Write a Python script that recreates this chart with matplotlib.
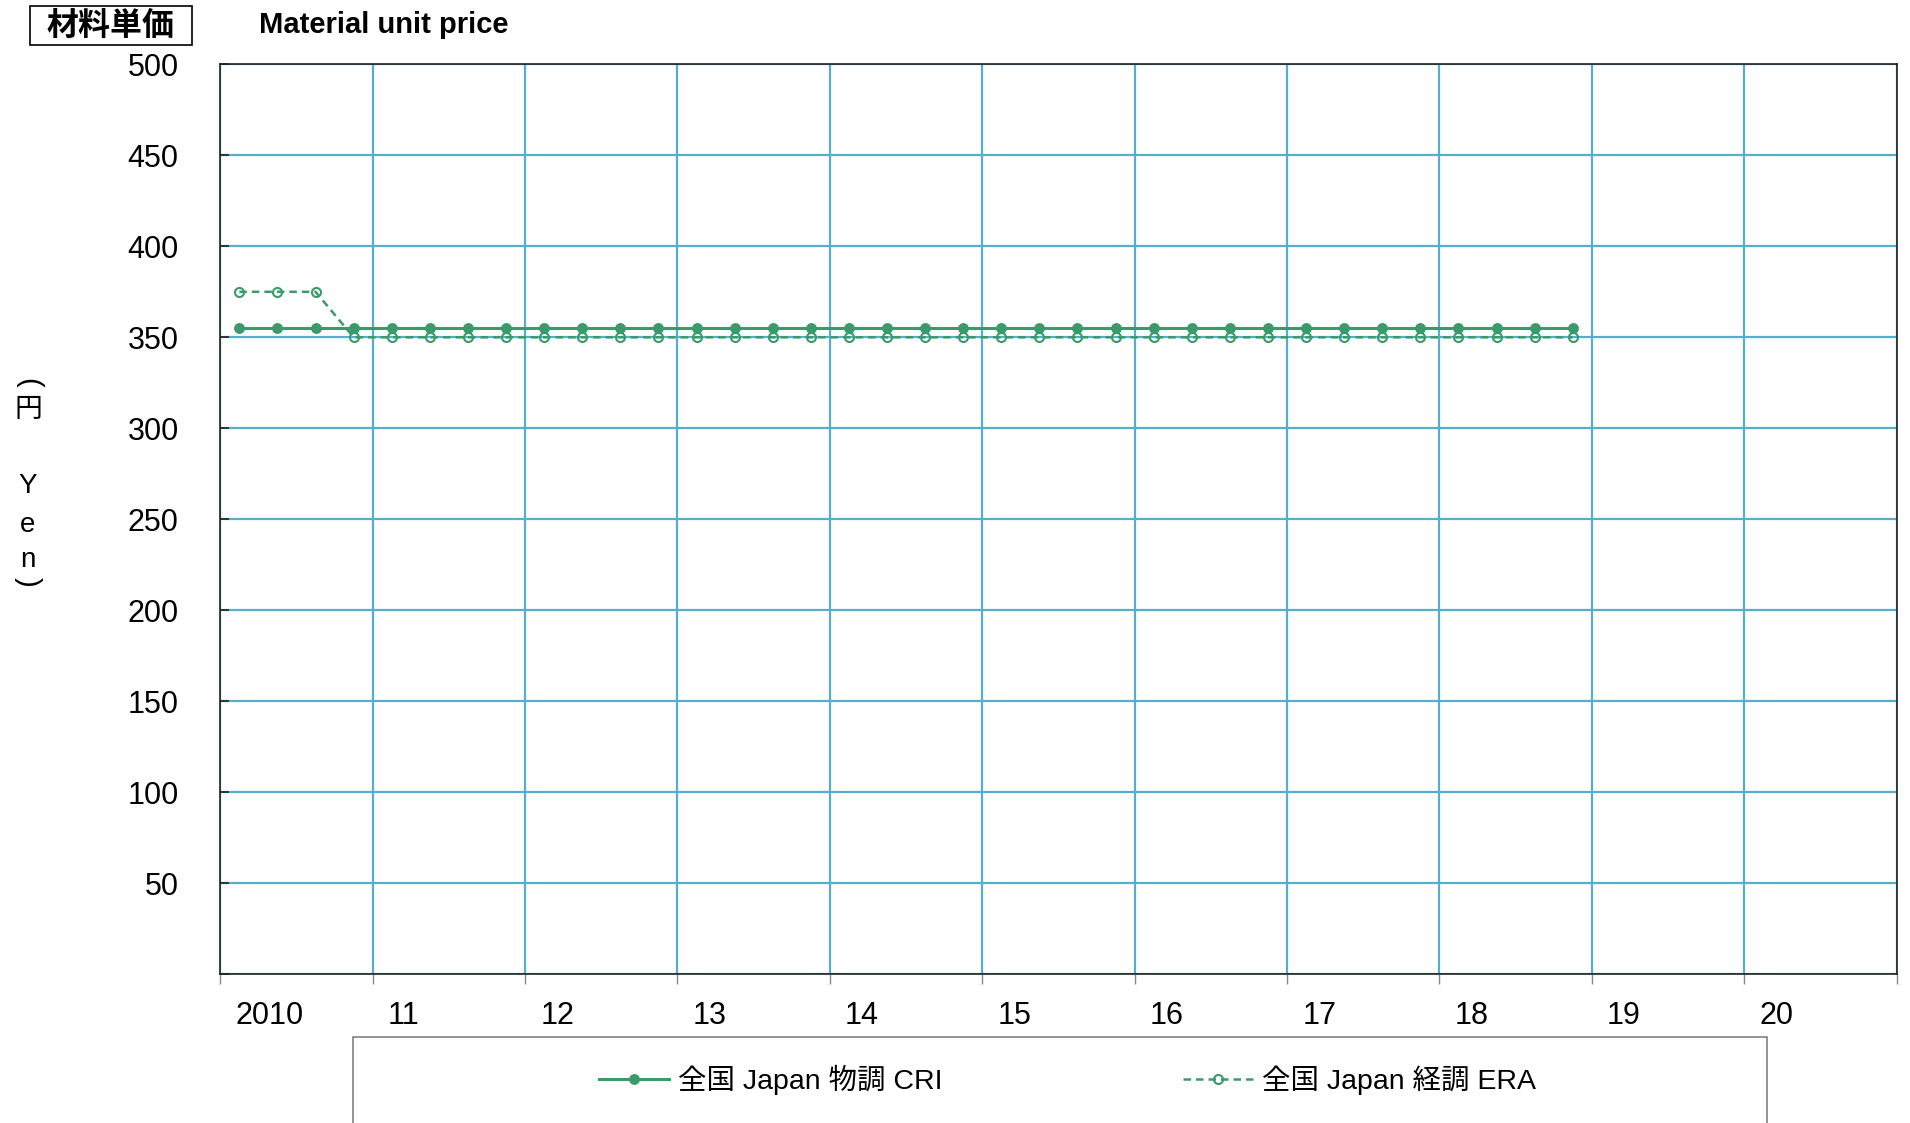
import glob
import matplotlib
matplotlib.use('Agg')
import matplotlib.pyplot as plt
from matplotlib import font_manager
from matplotlib.font_manager import FontProperties
from matplotlib.patches import Rectangle

# ---------- fonts ----------
narrow_path = None
paths = [f.fname for f in font_manager.fontManager.ttflist]
paths += glob.glob('/usr/share/fonts/**/*.ttf', recursive=True)
for p in paths:
    if 'liberationsansnarrow-regular' in p.lower().replace('_', '').replace(' ', ''):
        narrow_path = p
        break
if narrow_path:
    TICKFP = FontProperties(fname=narrow_path, size=24)
else:
    TICKFP = FontProperties(family='Liberation Sans', size=22)
CJK = ['Noto Sans CJK JP', 'DejaVu Sans']
LAT = ['Liberation Sans', 'Noto Sans CJK JP', 'DejaVu Sans']

# ---------------- data ----------------
years_data = [2010, 2011, 2012, 2013, 2014, 2015, 2016, 2017, 2018]
quarters = [1, 2, 3, 4]
periods = [(y, q) for y in years_data for q in quarters]   # quarterly, 2010Q1 .. 2018Q4

cri_price = [355, 355, 355, 355,
             355, 355, 355, 355,
             355, 355, 355, 355,
             355, 355, 355, 355,
             355, 355, 355, 355,
             355, 355, 355, 355,
             355, 355, 355, 355,
             355, 355, 355, 355,
             355, 355, 355, 355]
era_price = [375, 375, 375, 350,
             350, 350, 350, 350,
             350, 350, 350, 350,
             350, 350, 350, 350,
             350, 350, 350, 350,
             350, 350, 350, 350,
             350, 350, 350, 350,
             350, 350, 350, 350,
             350, 350, 350, 350]

year_ticks = [2010, 2011, 2012, 2013, 2014, 2015, 2016, 2017, 2018, 2019, 2020, 2021]
year_labels = ['2010', '11', '12', '13', '14', '15', '16', '17', '18', '19', '20']
y_ticks = [0, 50, 100, 150, 200, 250, 300, 350, 400, 450, 500]
y_labels = ['', '50', '100', '150', '200', '250', '300', '350', '400', '450', '500']

series_names = ['全国 Japan 物調 CRI', '全国 Japan 経調 ERA']

# ---------------- style ----------------
GREEN = '#3a9a6a'
GRID = '#55aecb'
W, H = 1910, 1123

fig = plt.figure(figsize=(W / 100, H / 100), dpi=100)
left, right, top, bottom = 220.3, 1896.6, 64.3, 974.3
ax = fig.add_axes([left / W, 1 - bottom / H, (right - left) / W, (bottom - top) / H])

x = [y + (q - 0.5) / 4 for (y, q) in periods]

l1, = ax.plot(x, cri_price, color=GREEN, lw=2.2, marker='o', ms=6.8,
              mfc=GREEN, mec=GREEN, label=series_names[0], zorder=4)
l2, = ax.plot(x, era_price, color=GREEN, lw=1.8, ls=(0, (3, 2)), marker='o', ms=6.5,
              mfc='none', mec=GREEN, mew=1.5, label=series_names[1], zorder=3)

ax.set_xlim(year_ticks[0], year_ticks[-1])
ax.set_ylim(y_ticks[0], y_ticks[-1])

ax.set_xticks(year_ticks)
ax.set_xticklabels([])
ax.set_xticks([y + 0.1 for y in year_ticks[:-1]], year_labels, minor=True,
              ha='left', fontproperties=TICKFP)
ax.tick_params(axis='x', which='major', direction='out', length=7, width=1, color='#888888')
ax.tick_params(axis='x', which='minor', length=0, pad=19)

ax.set_yticks(y_ticks, y_labels, fontproperties=TICKFP)
ax.tick_params(axis='y', direction='in', length=6.5, width=1.2, color='#222222', pad=30)

ax.grid(True, which='major', color=GRID, lw=1.6)
ax.set_axisbelow(True)
for s in ax.spines.values():
    s.set_color('#222222')
    s.set_linewidth(1.2)

# title box
fig.add_artist(Rectangle((30 / W, 1 - 45 / H), 162 / W, 39 / H, transform=fig.transFigure,
                         fill=False, ec='black', lw=1.2))
fig.text(111 / W, 1 - 25.5 / H, '材料単価', ha='center', va='center', fontsize=23,
         fontweight='bold', family=CJK)
fig.text(259 / W, 1 - 25 / H, 'Material unit price', ha='left', va='center', fontsize=21,
         fontweight='bold', family=['Liberation Sans', 'DejaVu Sans'])

# vertical y-axis label  (（円 Yen）written top to bottom)
fig.text(28 / W, 1 - 383 / H, '(', ha='center', va='center', fontsize=21, rotation=-90,
         family=LAT)
fig.text(28 / W, 1 - 409 / H, '円', ha='center', va='center', fontsize=20, family=CJK)
for ch, ypx in [('Y', 486), ('e', 525), ('n', 560)]:
    fig.text(28 / W, 1 - ypx / H, ch, ha='center', va='center', fontsize=20, family=LAT)
fig.text(28 / W, 1 - 582 / H, ')', ha='center', va='center', fontsize=21, rotation=-90,
         family=LAT)

# legend frame
fig.add_artist(Rectangle((352.7 / W, -0.1), (1766.7 - 352.7) / W, (H - 1036.5) / H + 0.1,
                         transform=fig.transFigure, fill=False, ec='#808080', lw=1.2))
for h, xpx in [(l1, 599.3), (l2, 1183)]:
    fig.legend(handles=[h], loc='center left', bbox_to_anchor=(xpx / W, 1 - 1080 / H),
               frameon=False, handlelength=2.46, handletextpad=0.32, borderpad=0,
               borderaxespad=0, prop={'family': LAT, 'size': 20.5})

fig.savefig('out.png', dpi=100)
